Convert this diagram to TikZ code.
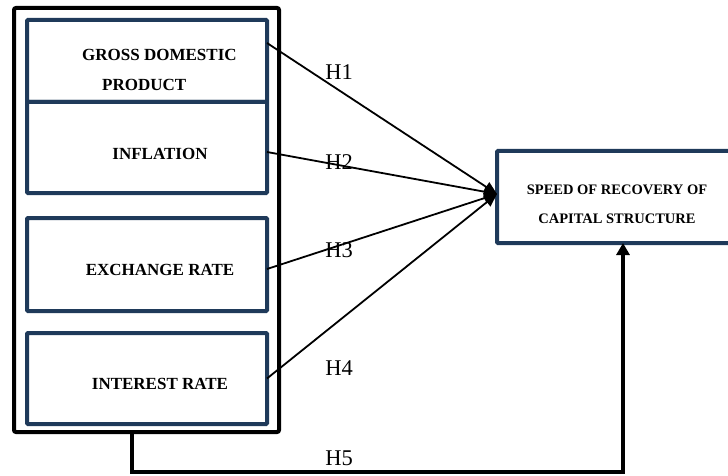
\documentclass[tikz,border=0pt]{standalone}
\usepackage{fontspec}
\setmainfont{Liberation Serif}
\usetikzlibrary{arrows.meta}
\definecolor{navy}{HTML}{1F3A5A}
\begin{document}
\begin{tikzpicture}[x=1pt,y=-1pt,
  box/.style={draw=navy, line width=4pt, minimum width=240pt, inner sep=0pt, outer sep=0pt, rounded corners=1pt},
  frame/.style={draw=black, line width=4pt, inner sep=0pt, outer sep=0pt, rounded corners=2pt},
  btxt/.style={font=\fontsize{17}{18}\selectfont\bfseries, inner sep=0pt},
  stxt/.style={font=\fontsize{14.5}{16}\selectfont\bfseries, inner sep=0pt},
  hlab/.style={font=\fontsize{22.5}{24}\selectfont, inner sep=0pt},
  conn/.style={line width=1.8pt, -{Triangle[length=13pt,width=11pt]}},
  fb/.style={line width=3.5pt, -{Triangle[length=12pt,width=13pt]}}]
\useasboundingbox (0,0) rectangle (728,476);
\node[frame, minimum width=265pt, minimum height=424pt] (outer) at (146.5,220) {};
\node[box, minimum height=82pt] (gdp) at (147,61) {};
\node[box, minimum height=91pt] (infl) at (147,147.5) {};
\node[box, minimum height=93pt] (exch) at (147,264.5) {};
\node[box, minimum height=91pt] (intr) at (147,378.5) {};
\node[box, minimum width=233pt, minimum height=92pt] (tgt) at (613.5,197) {};
% texts
\node[btxt, anchor=west] (t1a) at (82,55) {GROSS DOMESTIC};
\node[btxt, anchor=west] (t1b) at (102,85) {PRODUCT};
\node[btxt] (t2) at (160,154) {INFLATION};
\node[btxt] (t3) at (160,270) {EXCHANGE RATE};
\node[btxt] (t4) at (160,384) {INTEREST RATE};
\node[stxt] (t5a) at (617,190) {SPEED OF RECOVERY OF};
\node[stxt] (t5b) at (617,219) {CAPITAL STRUCTURE};
% connectors
\draw[conn] ([yshift=18pt]gdp.east) -- ([yshift=3pt]tgt.west);
\draw[conn] ([yshift=-4.5pt]infl.east) -- ([yshift=3pt]tgt.west);
\draw[conn] ([yshift=-4.5pt]exch.east) -- ([yshift=3pt]tgt.west);
\draw[conn] (intr.east) -- ([yshift=3pt]tgt.west);
\coordinate (fbstart) at ([xshift=-14.5pt]outer.south);
\coordinate (fbend) at ([xshift=9.5pt]tgt.south);
\coordinate (fblow) at (0,472);
\draw[fb] (fbstart) -- (fbstart |- fblow) -| (fbend);
% labels
\node[hlab] (h1) at (339,72) {H1};
\node[hlab] (h2) at (339,162) {H2};
\node[hlab] (h3) at (339,250) {H3};
\node[hlab] (h4) at (339,368) {H4};
\node[hlab] (h5) at (339,458) {H5};
\end{tikzpicture}
\end{document}
